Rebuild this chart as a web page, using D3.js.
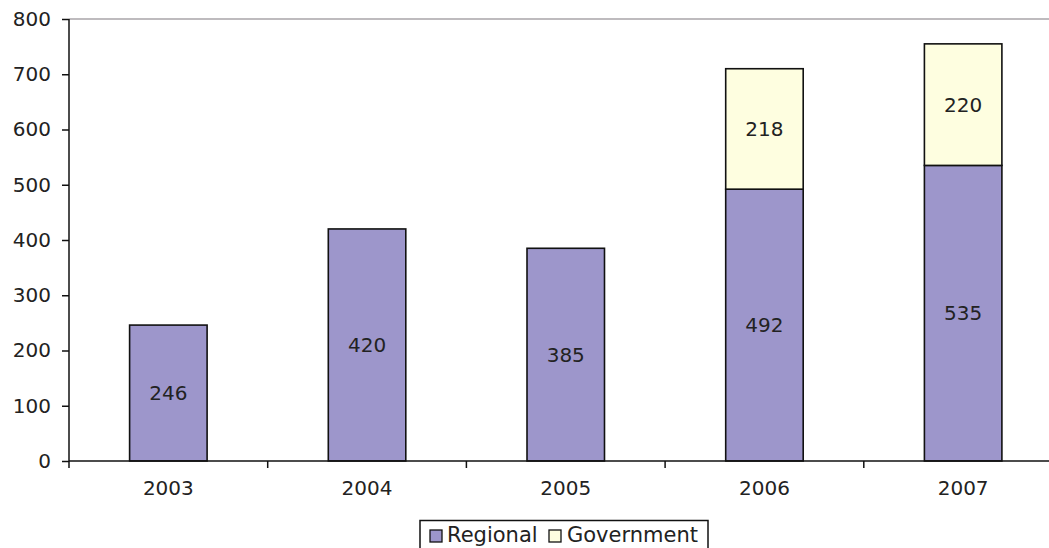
<!DOCTYPE html>
<html>
<head>
<meta charset="utf-8">
<script src="https://cdn.jsdelivr.net/npm/d3@7"></script>
<style>
  html, body { margin: 0; padding: 0; background: #fff; }
  svg { display: block; }
  text { font-family: "DejaVu Sans", Verdana, sans-serif; fill: #222; }
</style>
</head>
<body>
<svg id="chart" width="1049" height="548"></svg>
<script>
// Annual totals split by funding source
const years = ["2003", "2004", "2005", "2006", "2007"];
const regional = [246, 420, 385, 492, 535];
const government = [0, 0, 0, 218, 220];
const yTicks = [0, 100, 200, 300, 400, 500, 600, 700, 800];
const seriesNames = ["Regional", "Government"];
const seriesColors = ["#9d96cb", "#fefee0"];

const svg = d3.select("#chart");
const plotLeft = 69, plotTop = 19, plotBottom = 461;
const bandStep = 198.7;
const labelFont = 20;

const x = d3.scaleBand()
  .domain(years)
  .range([plotLeft, plotLeft + bandStep * years.length])
  .paddingInner(0.61)
  .paddingOuter(0.305);

const y = d3.scaleLinear().domain([0, 800]).range([plotBottom, plotTop]);

// top border of plot area
svg.append("line")
  .attr("x1", plotLeft).attr("x2", 1049)
  .attr("y1", y(800)).attr("y2", y(800))
  .attr("stroke", "#a8a4a8").attr("stroke-width", 1.5);

// stacked bars
const rows = years.map((yr, i) => ({ year: yr, Regional: regional[i], Government: government[i] }));
const stacked = d3.stack().keys(seriesNames)(rows);

stacked.forEach((layer, li) => {
  svg.append("g").selectAll("rect")
    .data(layer.filter(d => d[1] > d[0]))
    .join("rect")
    .attr("x", d => x(d.data.year))
    .attr("width", x.bandwidth())
    .attr("y", d => y(d[1]))
    .attr("height", d => y(d[0]) - y(d[1]))
    .attr("fill", seriesColors[li])
    .attr("stroke", "#111")
    .attr("stroke-width", 1.6);

  svg.append("g").selectAll("text")
    .data(layer.filter(d => d[1] > d[0]))
    .join("text")
    .attr("x", d => x(d.data.year) + x.bandwidth() / 2)
    .attr("y", d => (y(d[0]) + y(d[1])) / 2)
    .attr("text-anchor", "middle")
    .attr("dominant-baseline", "central")
    .attr("font-size", labelFont)
    .text(d => d[1] - d[0]);
});

// y axis
const yAxis = svg.append("g")
  .attr("transform", `translate(${plotLeft},0)`)
  .call(d3.axisLeft(y).tickValues(yTicks).tickSize(7).tickPadding(11));
yAxis.selectAll("text").attr("font-size", labelFont).style("font-family", "'DejaVu Sans', Verdana, sans-serif").attr("fill", "#222");
yAxis.selectAll("line, path").attr("stroke", "#111").attr("stroke-width", 1.5);
yAxis.select(".domain").attr("d", `M0,${plotTop}V${plotBottom}`);

// x axis with ticks at category boundaries
const xAxisG = svg.append("g").attr("transform", `translate(0,${plotBottom})`);
xAxisG.append("line")
  .attr("x1", plotLeft).attr("x2", 1049)
  .attr("stroke", "#111").attr("stroke-width", 1.5);
const boundaries = d3.range(years.length + 1).map(i => plotLeft + i * x.step());
xAxisG.selectAll("line.tick")
  .data(boundaries)
  .join("line")
  .attr("class", "tick")
  .attr("x1", d => d).attr("x2", d => d)
  .attr("y1", 0).attr("y2", 7)
  .attr("stroke", "#111").attr("stroke-width", 1.5);
xAxisG.selectAll("text")
  .data(years)
  .join("text")
  .attr("x", d => x(d) + x.bandwidth() / 2)
  .attr("y", 26.5)
  .attr("text-anchor", "middle")
  .attr("dominant-baseline", "central")
  .attr("font-size", labelFont)
  .text(d => d);

// legend
const legend = svg.append("g");
legend.append("rect")
  .attr("x", 420).attr("y", 520.5)
  .attr("width", 288).attr("height", 40)
  .attr("fill", "#fff").attr("stroke", "#111").attr("stroke-width", 1.5);
const legendItems = [
  { name: seriesNames[0], color: seriesColors[0], sx: 430, tx: 447 },
  { name: seriesNames[1], color: seriesColors[1], sx: 549, tx: 567 }
];
legendItems.forEach(it => {
  legend.append("rect")
    .attr("x", it.sx).attr("y", 530)
    .attr("width", 12).attr("height", 12)
    .attr("fill", it.color).attr("stroke", "#111").attr("stroke-width", 1.3);
  legend.append("text")
    .attr("x", it.tx).attr("y", 535)
    .attr("dominant-baseline", "central")
    .attr("font-size", 21)
    .text(it.name);
});
</script>
</body>
</html>
